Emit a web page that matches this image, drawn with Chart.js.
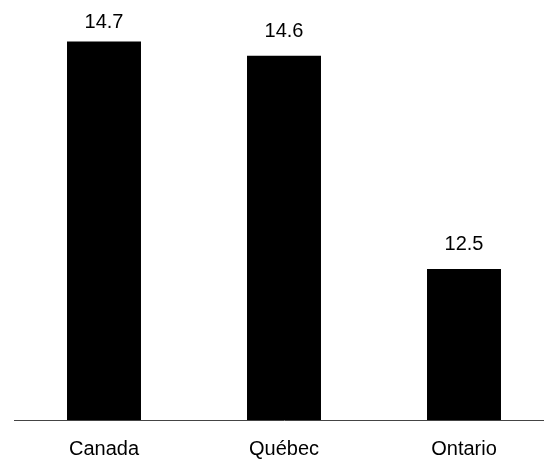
<!DOCTYPE html>
<html>
<head>
<meta charset="utf-8">
<script src="https://cdn.jsdelivr.net/npm/chart.js@4"></script>
<style>
  html, body { margin: 0; padding: 0; background: #fff; overflow: hidden; }
  #wrap { width: 544px; height: 459px; overflow: hidden; }
</style>
</head>
<body>
<div id="wrap"><canvas id="c" width="554" height="459"></canvas></div>
<script>
// Données
const categories = ['Canada', 'Québec', 'Ontario'];
const valeurs = [14.7, 14.56, 12.5];

// Étiquettes au-dessus des barres (gardées dans le canevas)
const etiquettes = {
    id: 'etiquettes',
    afterDatasetsDraw(chart) {
        const ctx = chart.ctx;
        const meta = chart.getDatasetMeta(0);
        ctx.save();
        ctx.font = '20px "Liberation Sans", Arial, sans-serif';
        ctx.fillStyle = '#000';
        ctx.textAlign = 'center';
        ctx.textBaseline = 'alphabetic';
        meta.data.forEach((bar, i) => {
            const y = Math.max(bar.y - 19, 28);
            ctx.fillText(valeurs[i].toFixed(1), bar.x, y);
        });
        ctx.restore();
    }
};

const ctx = document.getElementById('c').getContext('2d');
new Chart(ctx, {
    type: 'bar',
    data: {
        labels: categories,
        datasets: [{
            data: valeurs,
            backgroundColor: '#000',
            borderWidth: 0,
            categoryPercentage: 1,
            barPercentage: 0.411
        }]
    },
    options: {
        responsive: false,
        animation: false,
        layout: { padding: { left: 14, right: 0, top: 0, bottom: 0 } },
        plugins: {
            legend: { display: false },
            tooltip: { enabled: false }
        },
        scales: {
            x: {
                grid: { display: false, drawTicks: false },
                border: { display: true, color: '#444', width: 1 },
                ticks: {
                    color: '#000',
                    padding: 17.5,
                    font: { family: '"Liberation Sans", Arial, sans-serif', size: 20 }
                },
                afterFit(scale) {
                    // hauteur fixe de l'axe pour placer la ligne de base
                    scale.height = 39;
                }
            },
            y: {
                display: false,
                min: 11.04,
                max: 15.1
            }
        }
    },
    plugins: [etiquettes]
});
</script>
</body>
</html>
